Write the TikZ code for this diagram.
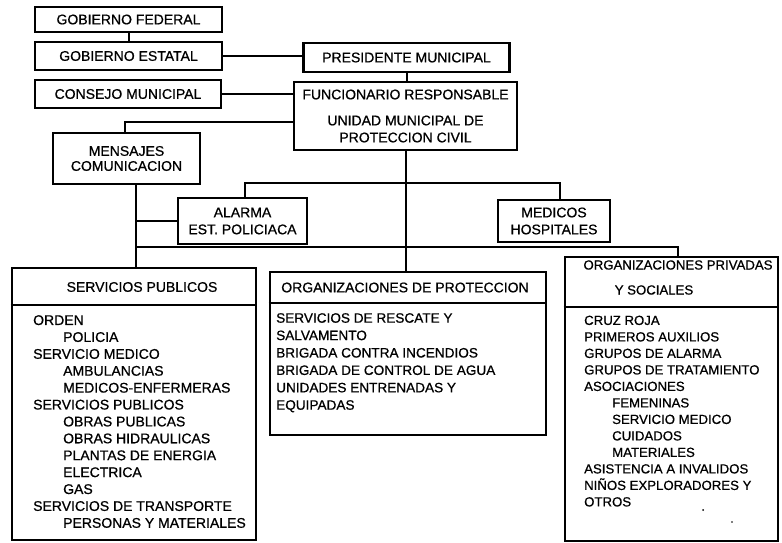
\documentclass[tikz,border=0pt]{standalone}
\usepackage{fontspec}
\setmainfont{Liberation Sans}[FakeBold=0.7]
\begin{document}
\begin{tikzpicture}[x=1pt,y=-1pt,
  box/.style={draw, line width=2.6pt, inner sep=0pt, align=center,
    font=\fontsize{14}{17}\selectfont},
  head/.style={inner sep=0pt, align=center, font=\fontsize{14}{17}\selectfont},
  list/.style={inner sep=0pt, align=left, anchor=north west,
    font=\fontsize{14}{17}\selectfont},
  link/.style={line width=2pt}]
\useasboundingbox[fill=white] (0,0) rectangle (782,543);

% upper chain of government
\node[box, minimum width=187pt, minimum height=25pt] (fed) at (128.5,19.5) {GOBIERNO FEDERAL};
\node[box, minimum width=187pt, minimum height=28pt] (est) at (128.5,56) {GOBIERNO ESTATAL};
\node[box, minimum width=186pt, minimum height=28pt] (cons) at (128,94) {CONSEJO MUNICIPAL};
\node[box, minimum width=206pt, minimum height=29pt] (pres) at (406.5,57.5) {PRESIDENTE MUNICIPAL};
\node[box, minimum width=223pt, minimum height=68pt] (func) at (405.5,116)
  {FUNCIONARIO RESPONSABLE\\[9pt]UNIDAD MUNICIPAL DE\\PROTECCION CIVIL};

% intermediate boxes
\node[box, minimum width=147pt, minimum height=51pt] (mens) at (126.5,158.5)
  {MENSAJES\\[-2pt]COMUNICACION};
\node[box, minimum width=129pt, minimum height=46pt] (alarma) at (242.5,221)
  {ALARMA\\EST. POLICIACA};
\node[box, minimum width=112pt, minimum height=42pt] (med) at (554,221)
  {MEDICOS\\HOSPITALES};

% lower boxes with headers
\node[box, minimum width=244pt, minimum height=272pt] (sp) at (134,404) {};
\node[box, minimum width=276pt, minimum height=163pt] (pr) at (408,353.5) {};
\node[box, minimum width=213pt, minimum height=284pt] (pv) at (671.5,399) {};

\coordinate (spdiv) at (0,305);
\coordinate (prdiv) at (0,303);
\coordinate (pvdiv) at (0,307);
\draw[line width=2.2pt] (sp.west |- spdiv) -- (sp.east |- spdiv);
\draw[line width=2.2pt] (pr.west |- prdiv) -- (pr.east |- prdiv);
\draw[line width=2.2pt] (pv.west |- pvdiv) -- (pv.east |- pvdiv);

\node[head] (sphead) at (142,287) {SERVICIOS PUBLICOS};
\node[head] (prhead) at (405,287.5) {ORGANIZACIONES DE PROTECCION};
\node[head, font=\fontsize{13.2}{16}\selectfont] (pvhead1) at (678,265) {ORGANIZACIONES PRIVADAS};
\node[head, font=\fontsize{13.2}{16}\selectfont] (pvhead2) at (654,290) {Y SOCIALES};

\node[list, font=\fontsize{14}{16.9}\selectfont] (splist) at (33,315) {ORDEN\\
\hspace*{30pt}POLICIA\\
SERVICIO MEDICO\\
\hspace*{30pt}AMBULANCIAS\\
\hspace*{30pt}MEDICOS-ENFERMERAS\\
SERVICIOS PUBLICOS\\
\hspace*{30pt}OBRAS PUBLICAS\\
\hspace*{30pt}OBRAS HIDRAULICAS\\
\hspace*{30pt}PLANTAS DE ENERGIA\\
\hspace*{30pt}ELECTRICA\\
\hspace*{30pt}GAS\\
SERVICIOS DE TRANSPORTE\\
\hspace*{30pt}PERSONAS Y MATERIALES};

\node[list, font=\fontsize{13.6}{17.4}\selectfont] (prlist) at (276,313) {SERVICIOS DE RESCATE Y\\
SALVAMENTO\\
BRIGADA CONTRA INCENDIOS\\
BRIGADA DE CONTROL DE AGUA\\
UNIDADES ENTRENADAS Y\\
EQUIPADAS};

\node[list, font=\fontsize{13.2}{16.5}\selectfont] (pvlist) at (584,315.5) {CRUZ ROJA\\
PRIMEROS AUXILIOS\\
GRUPOS DE ALARMA\\
GRUPOS DE TRATAMIENTO\\
ASOCIACIONES\\
\hspace*{28pt}FEMENINAS\\
\hspace*{28pt}SERVICIO MEDICO\\
\hspace*{28pt}CUIDADOS\\
\hspace*{28pt}MATERIALES\\
ASISTENCIA A INVALIDOS\\
NIÑOS EXPLORADORES Y\\
OTROS};

\fill (703,510) circle (1pt);
\fill (732,522) circle (0.9pt);

% connectors
\draw[link] (fed.south) -- (est.north);
\draw[link] (est.east) -- (est.east -| pres.west);
\draw[link] (cons.east) -- (cons.east -| func.west);
\draw[link] (pres.south) -- (pres.south |- func.north);

\coordinate (fm) at (125,122);
\draw[link] (func.west |- fm) -- (fm) -- (fm |- mens.north);

\coordinate (mx) at (136,0);
\draw[link] (mens.south -| mx) -- (mx |- sp.north);
\draw[link] (alarma.west) -- (alarma.west -| mx);

\coordinate (bus) at (136,247);
\coordinate (pvdrop) at (678,247);
\draw[link] (bus) -- (pvdrop) -- (pvdrop |- pv.north);

\draw[link] (func.south) -- (func.south |- pr.north);

\coordinate (ub1) at (245,183);
\coordinate (ub2) at (560,183);
\draw[link] (ub1 |- alarma.north) -- (ub1) -- (ub2) -- (ub2 |- med.north);
\end{tikzpicture}
\end{document}
